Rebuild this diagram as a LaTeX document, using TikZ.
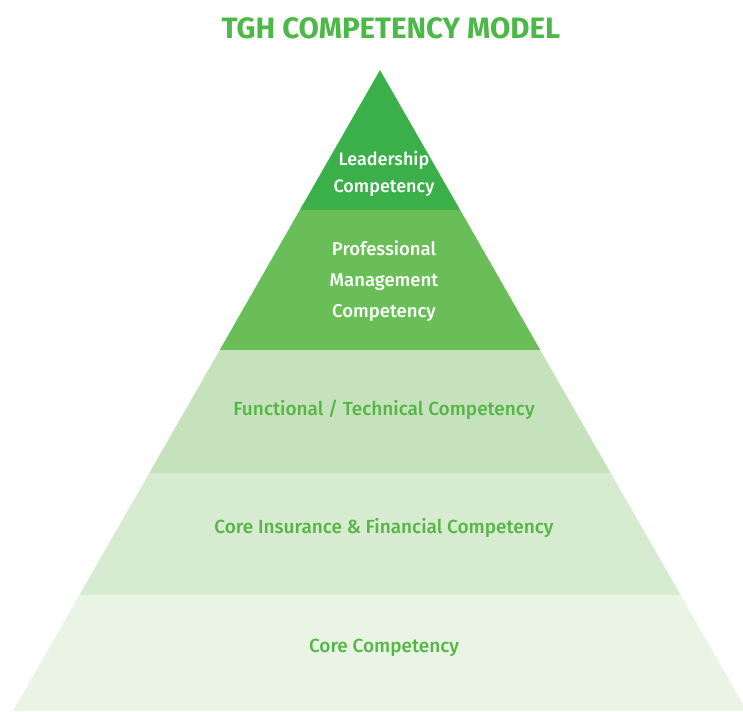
\documentclass[tikz,border=0pt]{standalone}
\usepackage{fontspec}
\setmainfont{Fira Sans}
\newfontfamily\labfont{Fira Sans Medium}
\definecolor{lay1}{HTML}{3BB04A}
\definecolor{lay2}{HTML}{69BE57}
\definecolor{lay3}{HTML}{C6E2BC}
\definecolor{lay4}{HTML}{D6EBCF}
\definecolor{lay5}{HTML}{E9F4E5}
\definecolor{titlegreen}{HTML}{4CB848}
\definecolor{labgreen}{HTML}{55B646}
\begin{document}
\begin{tikzpicture}[x=1pt,y=-1pt,
  whitelab/.style={text=white,align=center,font=\labfont\fontsize{18}{27}\selectfont},
  greenlab/.style={text=labgreen,align=center,font=\labfont\fontsize{19}{27}\selectfont}]
\useasboundingbox (0,0) rectangle (743,711);
\clip (0,0) rectangle (743,711);
% layers
\fill[lay1] (380,70) -- (460.2,210) -- (299.8,210) -- cycle;
\fill[lay2] (299.8,210) -- (460.2,210) -- (540.3,350) -- (219.7,350) -- cycle;
\fill[lay3] (219.7,350) -- (540.3,350) -- (610.7,473) -- (149.3,473) -- cycle;
\fill[lay4] (149.3,473) -- (610.7,473) -- (680.6,595) -- (79.4,595) -- cycle;
\fill[lay5] (79.4,595) -- (680.6,595) -- (747,711) -- (13,711) -- cycle;
% title
\node (title) at (391,28) {\fontsize{29.5}{30}\selectfont\bfseries\color{titlegreen}TGH COMPETENCY MODEL};
% labels
\node[whitelab] (lead) at (384,174) {Leadership\\Competency};
\node[whitelab,font=\labfont\fontsize{18.5}{31}\selectfont] (prof) at (384,281) {Professional\\Management\\Competency};
\node[greenlab] (func) at (384,410) {Functional / Technical Competency};
\node[greenlab] (ins) at (384,528) {Core Insurance \& Financial Competency};
\node[greenlab] (core) at (384,648) {Core Competency};
\end{tikzpicture}
\end{document}
